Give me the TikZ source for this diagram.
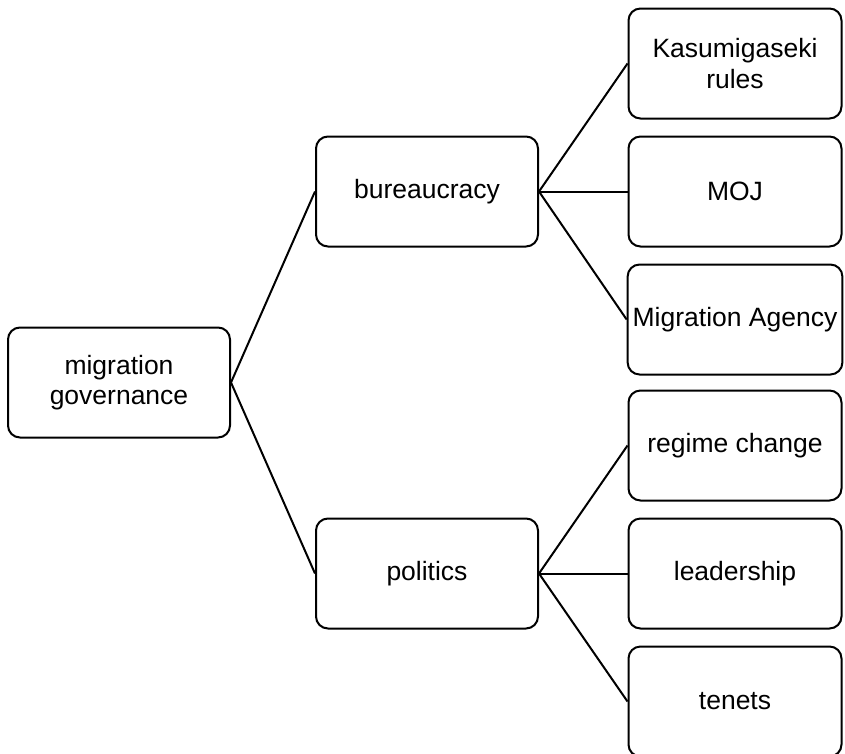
\documentclass[tikz,border=0pt]{standalone}
\usepackage{fontspec}
\setmainfont{Liberation Sans}

\begin{document}
\begin{tikzpicture}[grow'=right,
                    level distance=308pt,
                    level 1/.style={sibling distance=382pt},
                    level 2/.style={sibling distance=128pt},
                    edge from parent/.style={draw,line width=2pt},
                    edge from parent path={(\tikzparentnode.east) -- (\tikzchildnode.west)},
                    every node/.style = {shape=rectangle, rounded corners=12pt,
                    draw, line width=2pt, align=center,
                    minimum width=222pt, minimum height=110pt,
                    font=\fontsize{26.5}{30.5}\selectfont},
                    leaf/.style={minimum width=213pt, inner sep=5pt}]
  \useasboundingbox (0pt,0pt) rectangle (845pt,-753pt);
  \node (gov) at (119pt,-382.5pt) {migration\\governance}
    child { node (bur) {bureaucracy}
      child { node[leaf] (kas) {Kasumigaseki\\rules} }
      child { node[leaf] (moj) {MOJ} }
      child { node[leaf] (agency) {Migration Agency} }
    }
    child { node (pol) {politics}
      child { node[leaf] (regime) {regime change} }
      child { node[leaf] (lead) {leadership} }
      child { node[leaf] (tenets) {tenets} }
    };
\end{tikzpicture}
\end{document}
